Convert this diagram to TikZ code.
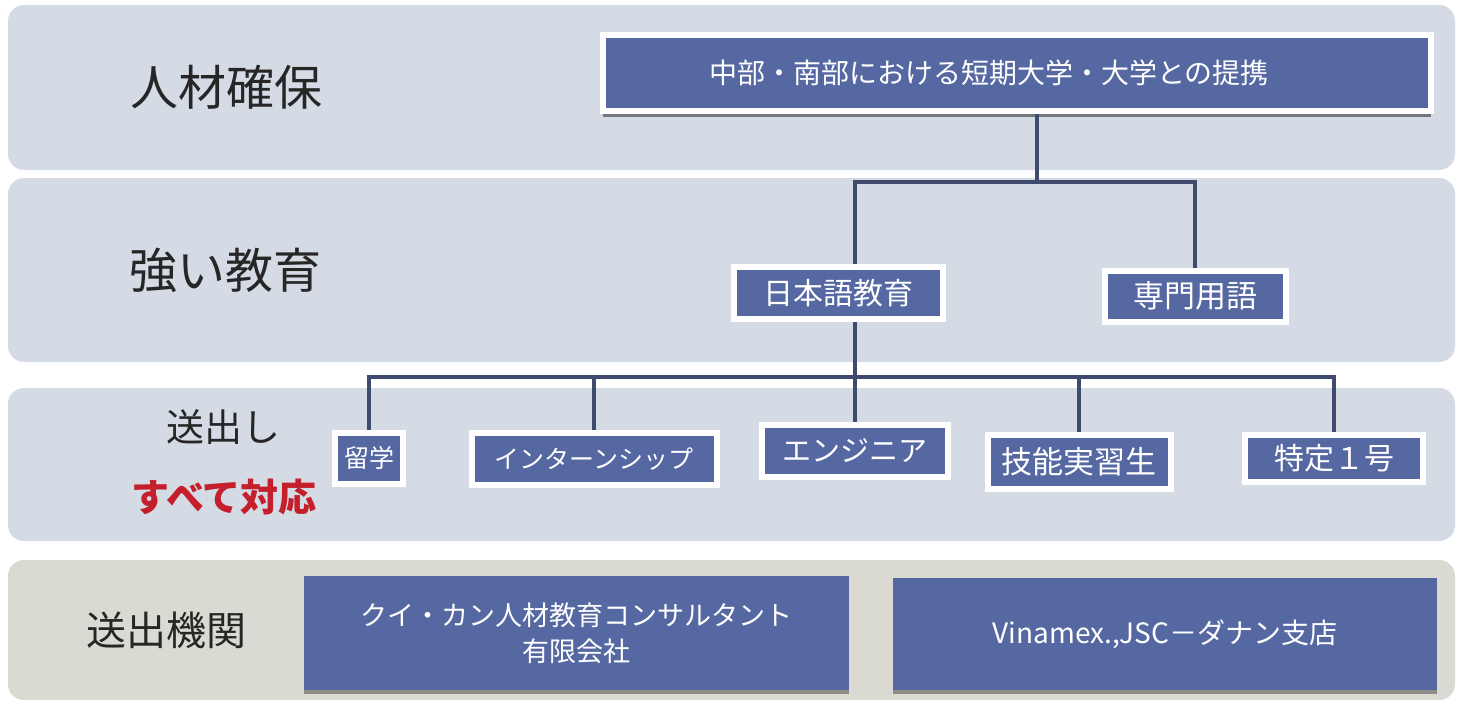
\documentclass[tikz,border=0pt]{standalone}
\usepackage{fontspec}
\setmainfont{Noto Sans CJK JP}
\usepackage{tikz}
\usetikzlibrary{shadows}

\definecolor{bandblue}{HTML}{D4DBE4}
\definecolor{bandsand}{HTML}{DAD9D2}
\definecolor{boxblue}{HTML}{5668A2}
\definecolor{linkblue}{HTML}{3F4B6E}
\definecolor{alertred}{HTML}{C51F2C}

\tikzset{
	band/.style = {rounded corners=16pt},
	bandlabel/.style = {text=black!85, inner sep=0pt, font=\fontsize{48}{50}\selectfont},
	boxnode/.style = {fill=boxblue, draw=white, line width=6pt, text=white, inner sep=0pt, align=center},
	agentbox/.style = {fill=boxblue, text=white, inner sep=0pt, align=center,
		drop shadow={shadow xshift=0pt, shadow yshift=-4pt, opacity=0.35, fill=black}},
	conn/.style = {draw=linkblue, line width=4pt}
}

\begin{document}
\begin{tikzpicture}[x=1pt, y=-1pt]
						\useasboundingbox (0,0) rectangle (1463,702);
						\fill[white] (0,0) rectangle (1463,702);

						% the four bands
						\fill[band, bandblue] (8,5) rectangle (1455,170);
						\fill[band, bandblue] (8,178) rectangle (1455,362);
						\fill[band, bandblue] (8,388) rectangle (1455,541);
						\fill[band, bandsand] (8,560) rectangle (1455,700);

						\node[bandlabel] (lblsecure) at (226,87) {人材確保};
						\node[bandlabel] (lbledu) at (225,270) {強い教育};
						\node[bandlabel, font=\fontsize{38}{40}\selectfont] (lblsend) at (223,427) {送出し};
						\node[bandlabel, text=alertred, font=\bfseries\fontsize{38}{40}\selectfont] (lblall) at (224,497) {すべて対応};
						\node[bandlabel, font=\fontsize{40}{42}\selectfont] (lblagency) at (166,630) {送出機関};

						\node[boxnode, minimum width=828pt, minimum height=76pt, font=\fontsize{28}{30}\selectfont,
							drop shadow={shadow xshift=0pt, shadow yshift=-6pt, opacity=0.45, fill=black}] (tie) at (1017,73) {\hspace*{-56pt}中部・南部における短期大学・大学との提携};

						\node[boxnode, minimum width=209pt, minimum height=52pt, font=\fontsize{30}{32}\selectfont] (nihongo) at (838,293) {日本語教育};
						\node[boxnode, minimum width=181pt, minimum height=51pt, font=\fontsize{31}{33}\selectfont] (senmon) at (1195,296) {専門用語};

						\node[boxnode, minimum width=68pt, minimum height=51pt, font=\fontsize{25}{27}\selectfont] (ryugaku) at (369,458) {留学};
						\node[boxnode, minimum width=245pt, minimum height=52pt, font=\fontsize{25}{27}\selectfont] (intern) at (594,459) {インターンシップ};
						\node[boxnode, minimum width=186pt, minimum height=52pt, font=\fontsize{29}{31}\selectfont] (engineer) at (855,451) {エンジニア};
						\node[boxnode, minimum width=183pt, minimum height=54pt, font=\fontsize{31}{33}\selectfont] (ginou) at (1079,462) {技能実習生};
						\node[boxnode, minimum width=178pt, minimum height=47pt, font=\fontsize{30}{32}\selectfont] (tokutei) at (1334,458) {特定１号};

						\node[agentbox, minimum width=545pt, minimum height=114pt, font=\fontsize{27}{36}\selectfont] (quican) at (576,633) {クイ・カン人材教育コンサルタント\\有限会社};
						\node[agentbox, minimum width=544pt, minimum height=112pt, font=\fontsize{28}{30}\selectfont] (vinamex) at (1165,634) {Vinamex.,JSC－ダナン支店};

						% connectors
						\coordinate (split) at (1037,182);
						\coordinate (busedu) at (855,182);
						\coordinate (bussend) at (855,377);
						\draw[conn] (split |- tie.south) -- (split);
						\draw[conn] (busedu |- nihongo.north) -- (busedu) -| (senmon.north);
						\draw[conn] (bussend |- nihongo.south) -- (bussend);
						\foreach \target in {ryugaku, intern, engineer, ginou, tokutei}
							\draw[conn] (bussend) -| (\target.north);
				\end{tikzpicture}
\end{document}
